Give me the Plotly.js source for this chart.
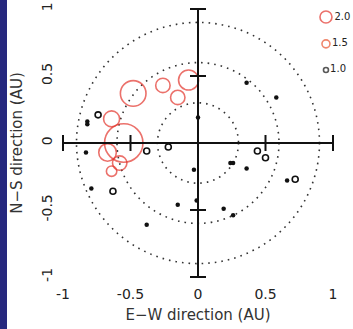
<!DOCTYPE html>
<html>
<head>
<meta charset="utf-8">
<script src="https://cdn.plot.ly/plotly-3.0.1.min.js"></script>
<style>
html,body{margin:0;padding:0;background:#fff;}
#wrap{position:relative;width:353px;height:329px;}
#band{position:absolute;left:0;top:0;width:7px;height:329px;background:#27287e;z-index:5;}
#chart{position:absolute;left:0;top:0;width:353px;height:329px;}
</style>
</head>
<body>
<div id="wrap"><div id="band"></div><div id="chart"></div></div>
<script>
// ---- data ----
// red circles (strong events): E-W, N-S position (AU) and relative magnitude
const redX = [-0.48, -0.26, -0.07, -0.15, -0.64, -0.55, -0.67, -0.58, -0.64];
const redY = [0.37, 0.43, 0.47, 0.34, 0.18, 0.00, -0.07, -0.15, -0.21];
const redVal = [3.2, 1.8, 2.5, 1.8, 2.0, 4.8, 2.2, 1.8, 1.3];
// black open circles
const openX = [-0.74, -0.63, -0.38, -0.22, 0.44, 0.50, 0.72];
const openY = [0.21, -0.36, -0.06, -0.03, -0.06, -0.11, -0.27];
// black filled dots
const dotX = [-0.82, -0.82, -0.83, -0.79, 0.00, 0.36, 0.58, 0.24, 0.26, 0.36, -0.03, -0.01, 0.19, 0.26, 0.66, -0.15, -0.38];
const dotY = [0.16, 0.14, -0.07, -0.34, 0.19, 0.45, 0.34, -0.15, -0.15, -0.19, -0.20, -0.43, -0.49, -0.54, -0.28, -0.46, -0.61];
// dotted reference circles (radius, AU)
const ringRadii = [0.3, 0.6, 0.9];
// axis ticks
const tickVals = [-1, -0.5, 0, 0.5, 1];
const tickText = ['-1', '-0.5', '0', '0.5', '1'];
const capVals = [-1, -0.5, 0.5, 1];
// legend
const legendLabels = ['2.0', '1.5', '1.0'];
const legendX = [0.948, 0.948, 0.948];
const legendY = [0.94, 0.74, 0.545];

// ---- styles ----
const RED = '#e2342c';
const INK = '#111';
const sizeScale = 8;
const legendSizes = [12, 8, 5];
const legendColors = [RED, '#e8522e', INK];
const FONT = 'DejaVu Sans, sans-serif';

const traces = [
  {x: redX, y: redY, mode: 'markers', type: 'scatter', hoverinfo: 'skip',
   marker: {symbol: 'circle-open', size: redVal.map(v => v * sizeScale), color: RED, line: {width: 1.6, color: RED}}},
  {x: openX, y: openY, mode: 'markers', type: 'scatter', hoverinfo: 'skip',
   marker: {symbol: 'circle-open', size: 6, color: INK, line: {width: 1.6, color: INK}}},
  {x: dotX, y: dotY, mode: 'markers', type: 'scatter', hoverinfo: 'skip',
   marker: {symbol: 'circle', size: 4.5, color: INK}},
  {x: legendX, y: legendY, mode: 'markers+text', type: 'scatter', hoverinfo: 'skip', cliponaxis: false,
   text: legendLabels, textposition: 'middle right',
   textfont: {family: FONT, size: 10, color: '#222'},
   marker: {symbol: 'circle-open', size: legendSizes, color: legendColors, line: {width: 1.6, color: legendColors}}}
];

const shapes = [];
ringRadii.forEach(r => shapes.push({type: 'circle', xref: 'x', yref: 'y', x0: -r, x1: r, y0: -r, y1: r,
  line: {color: '#333', width: 1.6, dash: '1.6px,5px'}, layer: 'below'}));
// cross axes
shapes.push({type: 'line', xref: 'x', yref: 'y', x0: tickVals[0], x1: tickVals[tickVals.length-1], y0: 0, y1: 0, line: {color: INK, width: 2}});
shapes.push({type: 'line', xref: 'x', yref: 'y', y0: tickVals[0], y1: tickVals[tickVals.length-1], x0: 0, x1: 0, line: {color: INK, width: 2}});
capVals.forEach(v => {
  shapes.push({type: 'line', xref: 'x', yref: 'y', x0: v, x1: v, ysizemode: 'pixel', yanchor: 0, y0: -8, y1: 8, line: {color: INK, width: 2}});
  shapes.push({type: 'line', xref: 'x', yref: 'y', y0: v, y1: v, xsizemode: 'pixel', xanchor: 0, x0: -8, x1: 8, line: {color: INK, width: 2}});
});

const layout = {
  width: 353, height: 329,
  margin: {l: 56, r: 13, t: 2, b: 45},
  paper_bgcolor: '#fff', plot_bgcolor: '#fff',
  showlegend: false,
  font: {family: FONT, color: '#222'},
  xaxis: {range: [-1.0519, 1.0519], showgrid: false, zeroline: false, showline: false,
    tickmode: 'array', tickvals: tickVals, ticktext: tickText, ticks: '',
    tickfont: {family: FONT, size: 14, color: '#222'}, fixedrange: true, automargin: false,
    title: {text: 'E\u2212W direction (AU)', font: {family: FONT, size: 15, color: '#333'}, standoff: 8}},
  yaxis: {range: [-1.0522, 1.0522], showgrid: false, zeroline: false, showline: false,
    tickmode: 'array', tickvals: tickVals, ticktext: tickText, ticks: '', tickangle: -90,
    tickfont: {family: FONT, size: 14, color: '#222'}, fixedrange: true, automargin: false,
    title: {text: 'N\u2212S direction (AU)', font: {family: FONT, size: 15, color: '#333'}, standoff: 12}},
  shapes: shapes
};

Plotly.newPlot('chart', traces, layout, {displayModeBar: false, staticPlot: true});
</script>
</body>
</html>
